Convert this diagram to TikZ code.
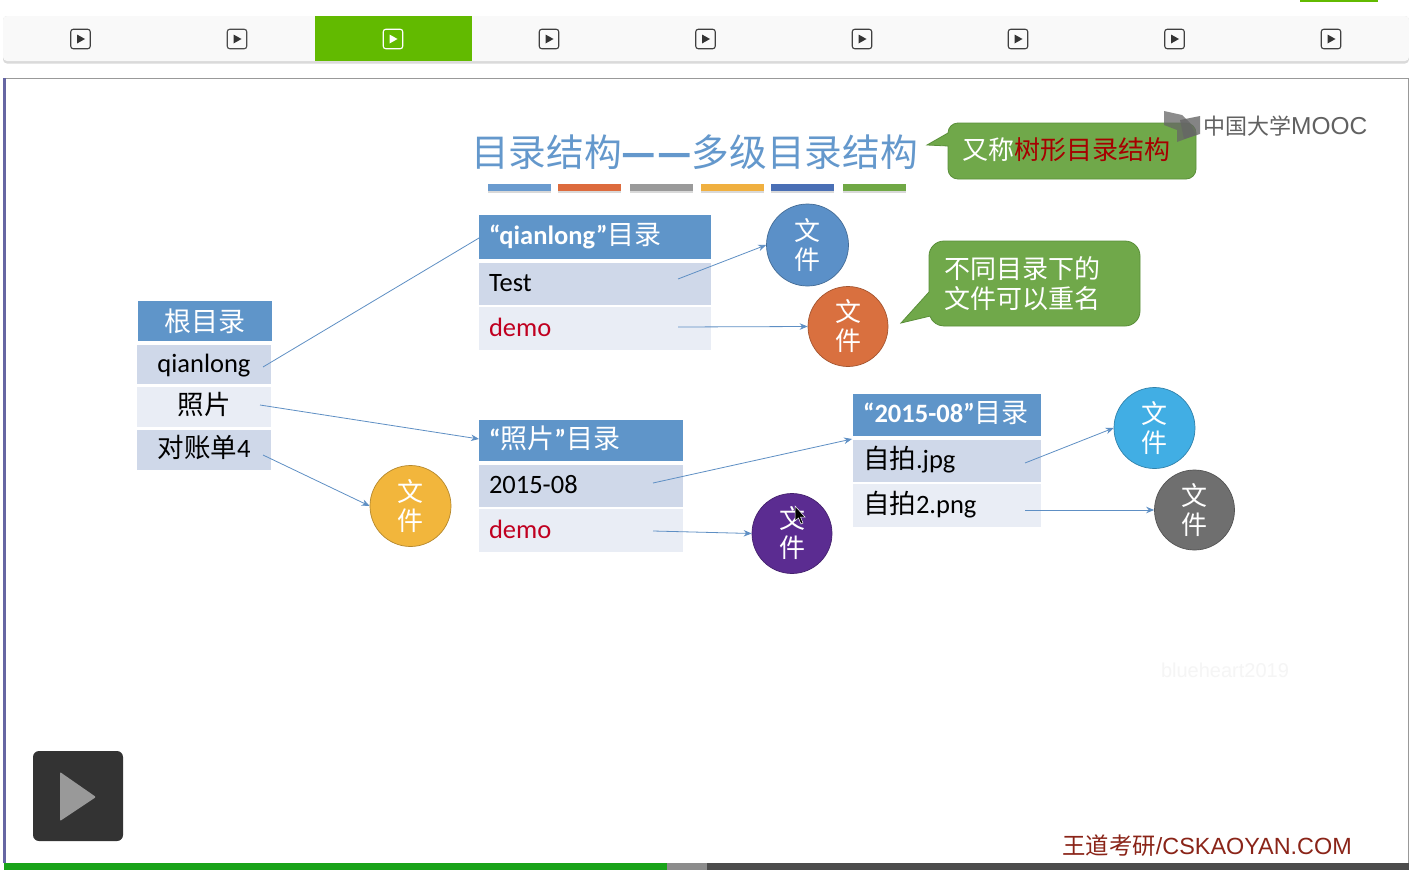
\documentclass[tikz,border=0pt]{standalone}
\usepackage{fontspec}
\setmainfont{Carlito}
\newfontfamily\cjk{Noto Sans CJK SC}
\newfontfamily\arialf{Liberation Sans}
\usetikzlibrary{arrows.meta}
\definecolor{hdr}{HTML}{5F95C9}
\definecolor{rowa}{HTML}{CFD8E9}
\definecolor{rowb}{HTML}{E9EDF5}
\definecolor{linec}{HTML}{5E8FC4}
\definecolor{titlec}{HTML}{6498CC}
\definecolor{calloutg}{HTML}{70A84A}
\definecolor{calloutb}{HTML}{5A8F39}
\definecolor{redt}{HTML}{C00020}
\definecolor{barbg}{HTML}{F9F9F9}
\definecolor{barsh}{HTML}{DADADA}
\definecolor{activeg}{HTML}{62BA00}
\definecolor{bara}{HTML}{6A9BCF}
\definecolor{barb}{HTML}{DD6B3D}
\definecolor{barc}{HTML}{9A9A9A}
\definecolor{bard}{HTML}{F0B040}
\definecolor{bare}{HTML}{4A6FB5}
\definecolor{barf}{HTML}{70A845}
\definecolor{footc}{HTML}{8A2418}
\newcommand{\fs}[1]{\fontsize{#1}{#1}\selectfont}
\tikzset{
  x=1pt,y=-1pt,
  cellbase/.style={draw=none,inner sep=0pt,outer sep=0pt,anchor=center,align=left,text height=20pt,text depth=5pt},
  hdrcell/.style={cellbase,fill=hdr,text=white,font=\fs{26.5}\bfseries},
  cella/.style={cellbase,fill=rowa,text=black,font=\fs{26.5}},
  cellb/.style={cellbase,fill=rowb,text=black,font=\fs{26.5}},
  filecirc/.style={circle,draw=#1!75!black,line width=0.7pt,fill=#1,text=white,minimum size=80pt,inner sep=0pt,align=center,font=\cjk\fs{26}},
  conn/.style={draw=linec,line width=0.8pt,-{Stealth[length=8pt,width=6.5pt]}},
  iconbox/.style={draw=#1,line width=1.1pt,rounded corners=2.5pt,minimum size=19.5pt,inner sep=0pt},
  calloutfill/.style={fill=calloutg,draw=calloutb,line width=0.8pt,rounded corners=0pt},
}
\newcommand{\playicon}[4]{%
  \node[iconbox=#3] (#1) at (#2,39) {};
  \fill[#4] (#2-3.5,34.5) -- (#2+4.5,39) -- (#2-3.5,43.5) -- cycle;}
\begin{document}
\begin{tikzpicture}
\useasboundingbox (0,0) rectangle (1409,870);
\fill[white] (0,0) rectangle (1409,870);
% top bar
\fill[activeg] (1300,0) rectangle (1378,1.5);
\fill[barsh,rounded corners=4pt] (3,16) rectangle (1409,63.5);
\fill[barbg,rounded corners=4pt] (3,16) rectangle (1409,61);
\fill[activeg] (315,16) rectangle (472,61);
\playicon{pa}{80.5}{black!75}{black!80}
\playicon{pb}{237}{black!70}{black!80}
\playicon{pc}{393}{white}{white}
\playicon{pd}{549}{black!75}{black!80}
\playicon{pe}{705.5}{black!75}{black!80}
\playicon{pf}{862}{black!75}{black!80}
\playicon{pg}{1018}{black!75}{black!80}
\playicon{ph}{1174.5}{black!75}{black!80}
\playicon{pi}{1331}{black!75}{black!80}
% slide frame
\draw[black!40,line width=1pt] (3,78.5) -- (1408,78.5) -- (1408,863);
\fill[black!60!blue!60!white] (3,78) rectangle (6,863);
% title
\node[text=titlec,font=\cjk\fs{37.7},inner sep=0pt] (title) at (694.5,152) {目录结构{\bfseries —\kern1pt—}多级目录结构};
\foreach \xa/\xb/\c in {488/551/bara,558/621/barb,630/693/barc,701/764/bard,771/834/bare,843/906/barf}{
  \fill[black!15] (\xa,186) rectangle (\xb,192.5);
  \fill[\c] (\xa,184) rectangle (\xb,190.5);
}
% root
\node[hdrcell,minimum width=134pt,minimum height=40pt,align=center,text height=26pt] (rh) at (204.5,321) {\cjk\mdseries\fs{27}根目录};
\node[cella,minimum width=134pt,minimum height=39pt,align=center] (r1) at (204,364.5) {qianlong};
\node[cellb,minimum width=134pt,minimum height=40pt,align=center] (r2) at (204,407) {\cjk 照片};
\node[cella,minimum width=134pt,minimum height=40pt,align=center] (r3) at (204,450) {{\cjk 对账单}4};
% qianlong dir
\node[hdrcell,minimum width=232pt,minimum height=44pt,text width=212pt] (qh) at (595,237) {“qianlong”{\cjk\mdseries\fs{27}目录}};
\node[cella,minimum width=232pt,minimum height=42pt,text width=212pt] (q1) at (595,284) {Test};
\node[cellb,minimum width=232pt,minimum height=43pt,text width=212pt,text=redt] (q2) at (595,328.5) {demo};
% photo dir
\node[hdrcell,minimum width=204pt,minimum height=41pt,text width=184pt] (ph1) at (581,440.5) {“{\cjk\mdseries\fs{27}照片}”{\cjk\mdseries\fs{27}目录}};
\node[cella,minimum width=204pt,minimum height=42pt,text width=184pt] (p1) at (581,486) {2015-08};
\node[cellb,minimum width=204pt,minimum height=43pt,text width=184pt,text=redt] (p2) at (581,530.5) {demo};
% 2015 dir
\node[hdrcell,minimum width=188pt,minimum height=42pt,text width=168pt] (yh) at (947,415) {“2015-08”{\cjk\mdseries\fs{27}目录}};
\node[cella,minimum width=188pt,minimum height=42pt,text width=168pt] (y1) at (947,461) {{\cjk 自拍}.jpg};
\node[cellb,minimum width=188pt,minimum height=43pt,text width=168pt] (y2) at (947,505.5) {{\cjk 自拍}2.png};
% files
\definecolor{fa}{HTML}{5B90C8}
\definecolor{fb}{HTML}{D9703F}
\definecolor{fc}{HTML}{F2B63C}
\definecolor{fd}{HTML}{5B2C91}
\definecolor{fe}{HTML}{41AEE4}
\definecolor{ff}{HTML}{6F6F6F}
\node[filecirc=fa,minimum size=82pt] (f1) at (807.5,245) {文\\[3pt]件};
\node[filecirc=fb] (f2) at (848,326.5) {文\\[3pt]件};
\node[filecirc=fc,minimum size=81pt] (f3) at (410.5,506) {文\\[3pt]件};
\node[filecirc=fd] (f4) at (792,533.5) {文\\[3pt]件};
\node[filecirc=fe,minimum size=81pt] (f5) at (1154.5,428) {文\\[3pt]件};
\node[filecirc=ff] (f6) at (1194.5,510) {文\\[3pt]件};
% connector start points
\coordinate (s1) at (263,367);
\coordinate (s2) at (260,405);
\coordinate (s3) at (263,455);
\coordinate (s4) at (678,279);
\coordinate (s5) at (678,327);
\coordinate (s6) at (653,483);
\coordinate (s7) at (653,531);
\coordinate (s8) at (1025,463);
\coordinate (s9) at (1025,510);
\coordinate (e1) at (479,238);
\coordinate (e2) at (479,439);
\coordinate (e6) at (852,439);
\draw[draw=linec,line width=0.8pt] (s1) -- (e1);
\draw[conn] (s2) -- (e2);
\draw[conn] (s3) -- (f3.west);
\draw[conn] (s4) -- (f1.west);
\draw[conn] (s5) -- (f2.west);
\draw[conn] (s6) -- (e6);
\draw[conn] (s7) -- (f4.west);
\draw[conn] (s8) -- (f5.west);
\draw[conn] (s9) -- (f6.west);
% callouts
\draw[calloutfill] (927,145) -- (948,133) arc[start angle=180,end angle=270,radius=10] -- (1186,123) arc[start angle=270,end angle=360,radius=10] -- (1196,169) arc[start angle=0,end angle=90,radius=10] -- (958,179) arc[start angle=90,end angle=180,radius=10] -- (948,146) -- cycle;
\node[inner sep=0pt,font=\cjk\fs{26},text=white,anchor=west] (c1) at (962,150) {又称\textcolor{red!65!black}{树形目录结构}};
\draw[calloutfill] (901,323) -- (929,292) -- (929,256) arc[start angle=180,end angle=270,radius=15] -- (1125,241) arc[start angle=270,end angle=360,radius=15] -- (1140,311) arc[start angle=0,end angle=90,radius=15] -- (944,326) arc[start angle=90,end angle=160,radius=15] -- cycle;
\node[inner sep=0pt,font=\cjk\fs{26},text=white,align=left,anchor=west] (c2) at (944,284) {不同目录下的\\[4pt]文件可以重名};
% logo
\fill[black!60,opacity=.75] (1164,111) -- (1182,115) -- (1190,123) -- (1196,135) -- (1177,142) -- (1177,130) -- (1164,125) -- cycle;
\fill[black!60,opacity=.8] (1180,120) -- (1200,116) -- (1200,134) -- (1184,139) -- cycle;
\node[inner sep=0pt,anchor=west,text=black!62,font=\cjk\fs{22}] (logo) at (1203,126) {中国大学\arialf\fs{24.5}MOOC};
% watermark
\node[inner sep=0pt,text=black!4,font=\arialf\fs{20}] (wm) at (1225,670) {blueheart2019};
% play button
\fill[black!80,rounded corners=6pt] (33,751) rectangle (123,841);
\fill[black!40,rounded corners=1pt] (60,772) -- (96,797) -- (60,821) -- cycle;
% cursor
\fill[black,draw=white,line width=0.5pt] (795,506) -- (795,521) -- (798.5,518) -- (801,524) -- (803,523) -- (800.5,517) -- (805,517) -- cycle;
% footer text
\node[inner sep=0pt,anchor=east,text=footc,font=\arialf\fs{23.4}] (foot) at (1352,846) {{\cjk 王道考研}/CSKAOYAN.COM};
% progress bar
\fill[black!70] (4,863) rectangle (1409,870);
\fill[black!45] (667,863) rectangle (707,870);
\fill[green!60!black!90!white] (4,863) rectangle (667,870);
\end{tikzpicture}
\end{document}
